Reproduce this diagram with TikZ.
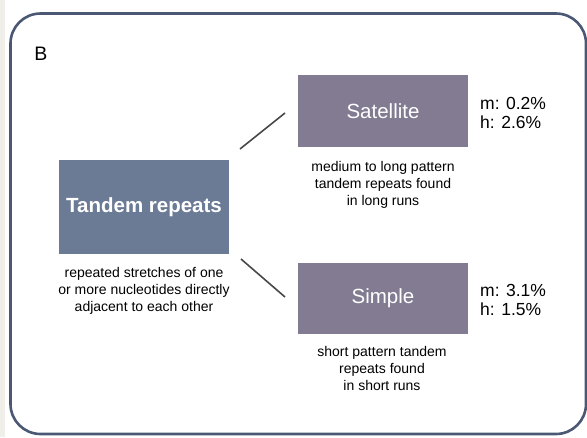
\documentclass[tikz,border=0pt]{standalone}
\usepackage{fontspec}
\setmainfont{Liberation Sans}
\usetikzlibrary{calc}
\definecolor{tandemblue}{RGB}{107,122,149}
\definecolor{subpurple}{RGB}{131,123,145}
\definecolor{framecol}{RGB}{74,88,116}
\definecolor{pagebeige}{RGB}{239,238,232}
\tikzstyle{mainbox}=[shape=rectangle, minimum width=170pt, minimum height=94pt, inner sep=0, fill=tandemblue, text=white, font=\fontsize{20.5}{24}\selectfont\bfseries]
\tikzstyle{subbox}=[shape=rectangle, minimum width=170pt, minimum height=72pt, inner sep=0, fill=subpurple, text=white, font=\fontsize{20.5}{24}\selectfont]
\tikzstyle{desc}=[align=center, inner sep=0, font=\fontsize{14}{17}\selectfont]
\tikzstyle{pct}=[align=left, anchor=west, inner sep=0, font=\fontsize{17.5}{19}\selectfont]
\tikzstyle{link}=[line width=1.6pt, color=black!72]

\begin{document}
\begin{tikzpicture}[x=1pt, y=-1pt]
\useasboundingbox (0,0) rectangle (587,437);
\fill[pagebeige] (0,0) rectangle (5,437);
\draw[framecol, line width=2.6pt, rounded corners=30pt] (10.5,13.5) rectangle (586,434);
\node at (41,54)[inner sep=0, font=\fontsize{19.5}{22}\selectfont](panel){B};
\node at (144,207)[mainbox](tandem){Tandem repeats};
\node at (144,290.5)[desc](tandemtxt){repeated stretches of one\\or more nucleotides directly\\adjacent to each other};
\node at (383,111)[subbox](sat){Satellite};
\node at (383,185)[desc](sattxt){medium to long pattern\\tandem repeats found\\in long runs};
\node at (480,112.5)[pct](satpct){m: 0.2\%\\h: 2.6\%};
\node at (383,298.5)[subbox, minimum height=71pt](simple){Simple};
\node at (382,368.5)[desc](simpletxt){short pattern tandem\\repeats found\\in short runs};
\node at (480,299.5)[pct](simplepct){m: 3.1\%\\h: 1.5\%};
\coordinate (a1) at (240,149);
\coordinate (a2) at (285,113);
\coordinate (b1) at (241,259);
\coordinate (b2) at (285,297);
\draw[link] (a1)--(a2);
\draw[link] (b1)--(b2);
\end{tikzpicture}
\end{document}
